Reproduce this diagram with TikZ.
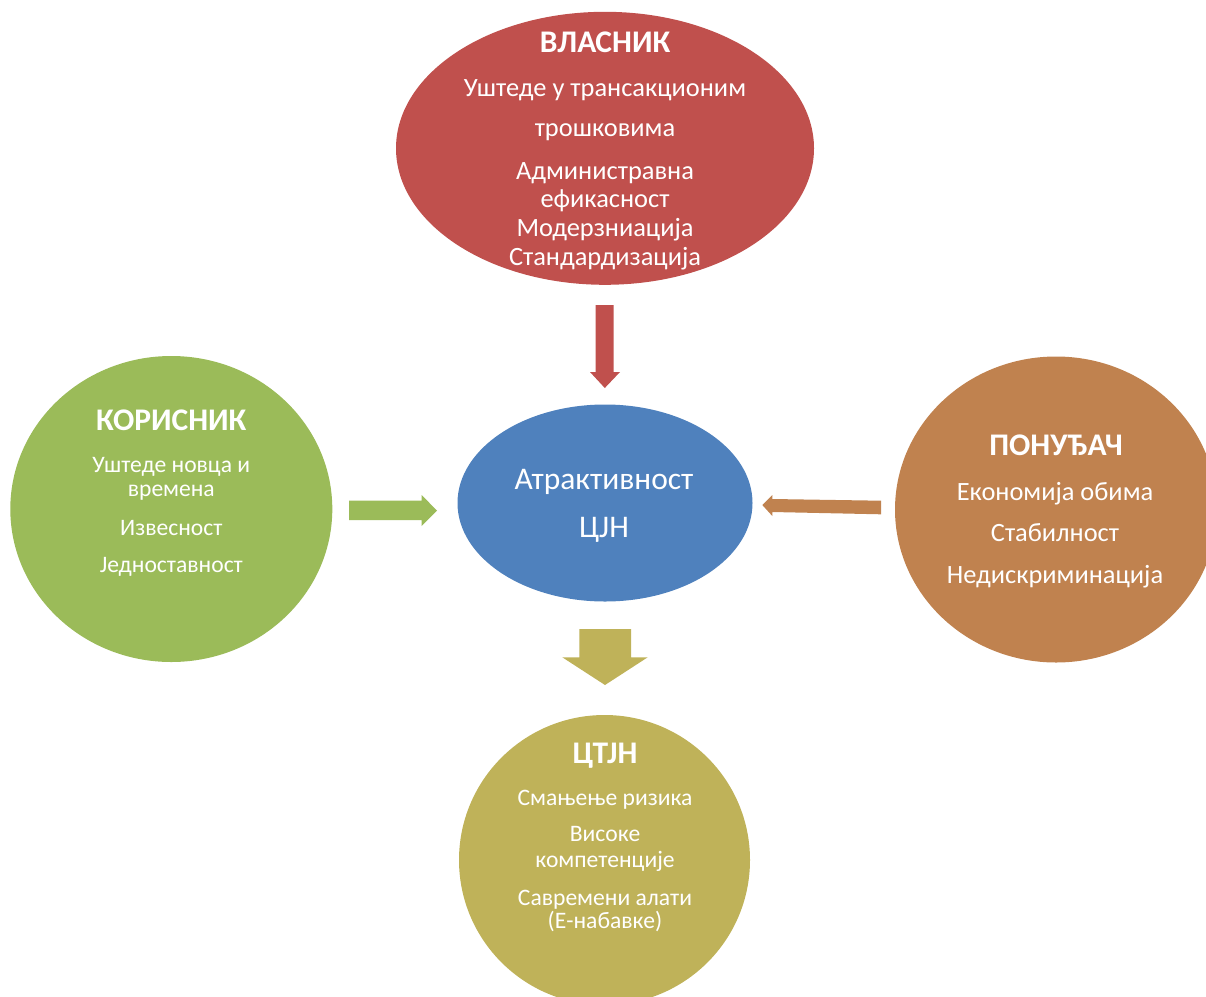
\documentclass[tikz,border=0pt]{standalone}
\usepackage{fontspec}
\setmainfont{Carlito}
\usetikzlibrary{shapes.geometric}
\definecolor{cred}{HTML}{C0504D}
\definecolor{cblue}{HTML}{4F81BD}
\definecolor{cgreen}{HTML}{9BBB59}
\definecolor{corange}{HTML}{C0824F}
\definecolor{colive}{HTML}{BFB259}
\tikzset{
  blob/.style={ellipse, inner sep=0pt, draw=none},
  ttl/.style={anchor=base, text=white, inner sep=0pt, font=\fontsize{31.5}{31.5}\selectfont\bfseries},
  big/.style={anchor=base, text=white, inner sep=0pt, font=\fontsize{26.4}{26.4}\selectfont},
  huge/.style={anchor=base, text=white, inner sep=0pt, font=\fontsize{31.5}{31.5}\selectfont},
  sml/.style={anchor=base, text=white, inner sep=0pt, font=\fontsize{23.6}{23.6}\selectfont},
}
\begin{document}
\begin{tikzpicture}[x=1pt,y=-1pt]
\useasboundingbox (0,0) rectangle (1206,996);
\clip (0,0) rectangle (1206,996);
% shapes
\node[blob, fill=cred, minimum width=418pt, minimum height=273pt] (own) at (605,148.3) {};
\node[blob, fill=cblue, minimum width=295pt, minimum height=197pt] (atr) at (605,503) {};
\node[blob, fill=cgreen, minimum width=322pt, minimum height=306pt] (usr) at (171.3,509) {};
\node[blob, fill=corange, minimum width=322pt, minimum height=306pt] (bid) at (1056,509.5) {};
\node[blob, fill=colive, minimum width=291pt, minimum height=290pt] (ctjn) at (604.5,860) {};
% arrows
\fill[cred] (595.7,305) -- (613.7,305) -- (613.7,372) -- (620,372) -- (604.8,388) -- (590,372) -- (595.7,372) -- cycle;
\fill[cgreen] (349,500.7) -- (421.7,500.7) -- (421.7,495) -- (437,510.7) -- (421.7,526) -- (421.7,520) -- (349,520) -- cycle;
\fill[corange] (762.3,505) -- (772.3,495) -- (772.3,499) -- (881,500.7) -- (881,514.3) -- (772.3,512) -- (772.3,516) -- cycle;
\fill[colive] (579.3,629) -- (631,629) -- (631,657.3) -- (647.7,657.3) -- (605,685) -- (562.3,657.3) -- (579.3,657.3) -- cycle;
% red texts
\node[ttl] (ownT) at (605,52.3) {ВЛАСНИК};
\node[big] (own1) at (605,96.7) {Уштеде у трансакционим};
\node[big] (own2) at (605,136.7) {трошковима};
\node[big] (own3) at (605,179) {Администравна};
\node[big] (own4) at (605,207) {ефикасност};
\node[big] (own5) at (605,236.5) {Модерзниација};
\node[big] (own6) at (605,265) {Стандардизација};
% blue texts
\node[huge] (atr1) at (604,489) {Атрактивност};
\node[huge] (atr2) at (604,537) {ЦЈН};
% green texts
\node[ttl] (usrT) at (171.3,430.7) {КОРИСНИК};
\node[sml] (usr1) at (171.3,472.3) {Уштеде новца и};
\node[sml] (usr2) at (171.3,496.7) {времена};
\node[sml] (usr3) at (171.3,535) {Извесност};
\node[sml] (usr4) at (171.3,572.3) {Једноставност};
% orange texts
\node[ttl] (bidT) at (1056,455) {ПОНУЂАЧ};
\node[big] (bid1) at (1055,500) {Економија обима};
\node[big] (bid2) at (1055,541.7) {Стабилност};
\node[big] (bid3) at (1055,583.3) {Недискриминација};
% olive texts
\node[ttl] (ctjnT) at (605,763.3) {ЦТЈН};
\node[sml] (ctjn1) at (605,805) {Смањење ризика};
\node[sml] (ctjn2) at (605,841.7) {Високе};
\node[sml] (ctjn3) at (605,867.3) {компетенције};
\node[sml] (ctjn4) at (605,905) {Савремени алати};
\node[sml] (ctjn5) at (605,928.3) {(Е-набавке)};
\end{tikzpicture}
\end{document}
